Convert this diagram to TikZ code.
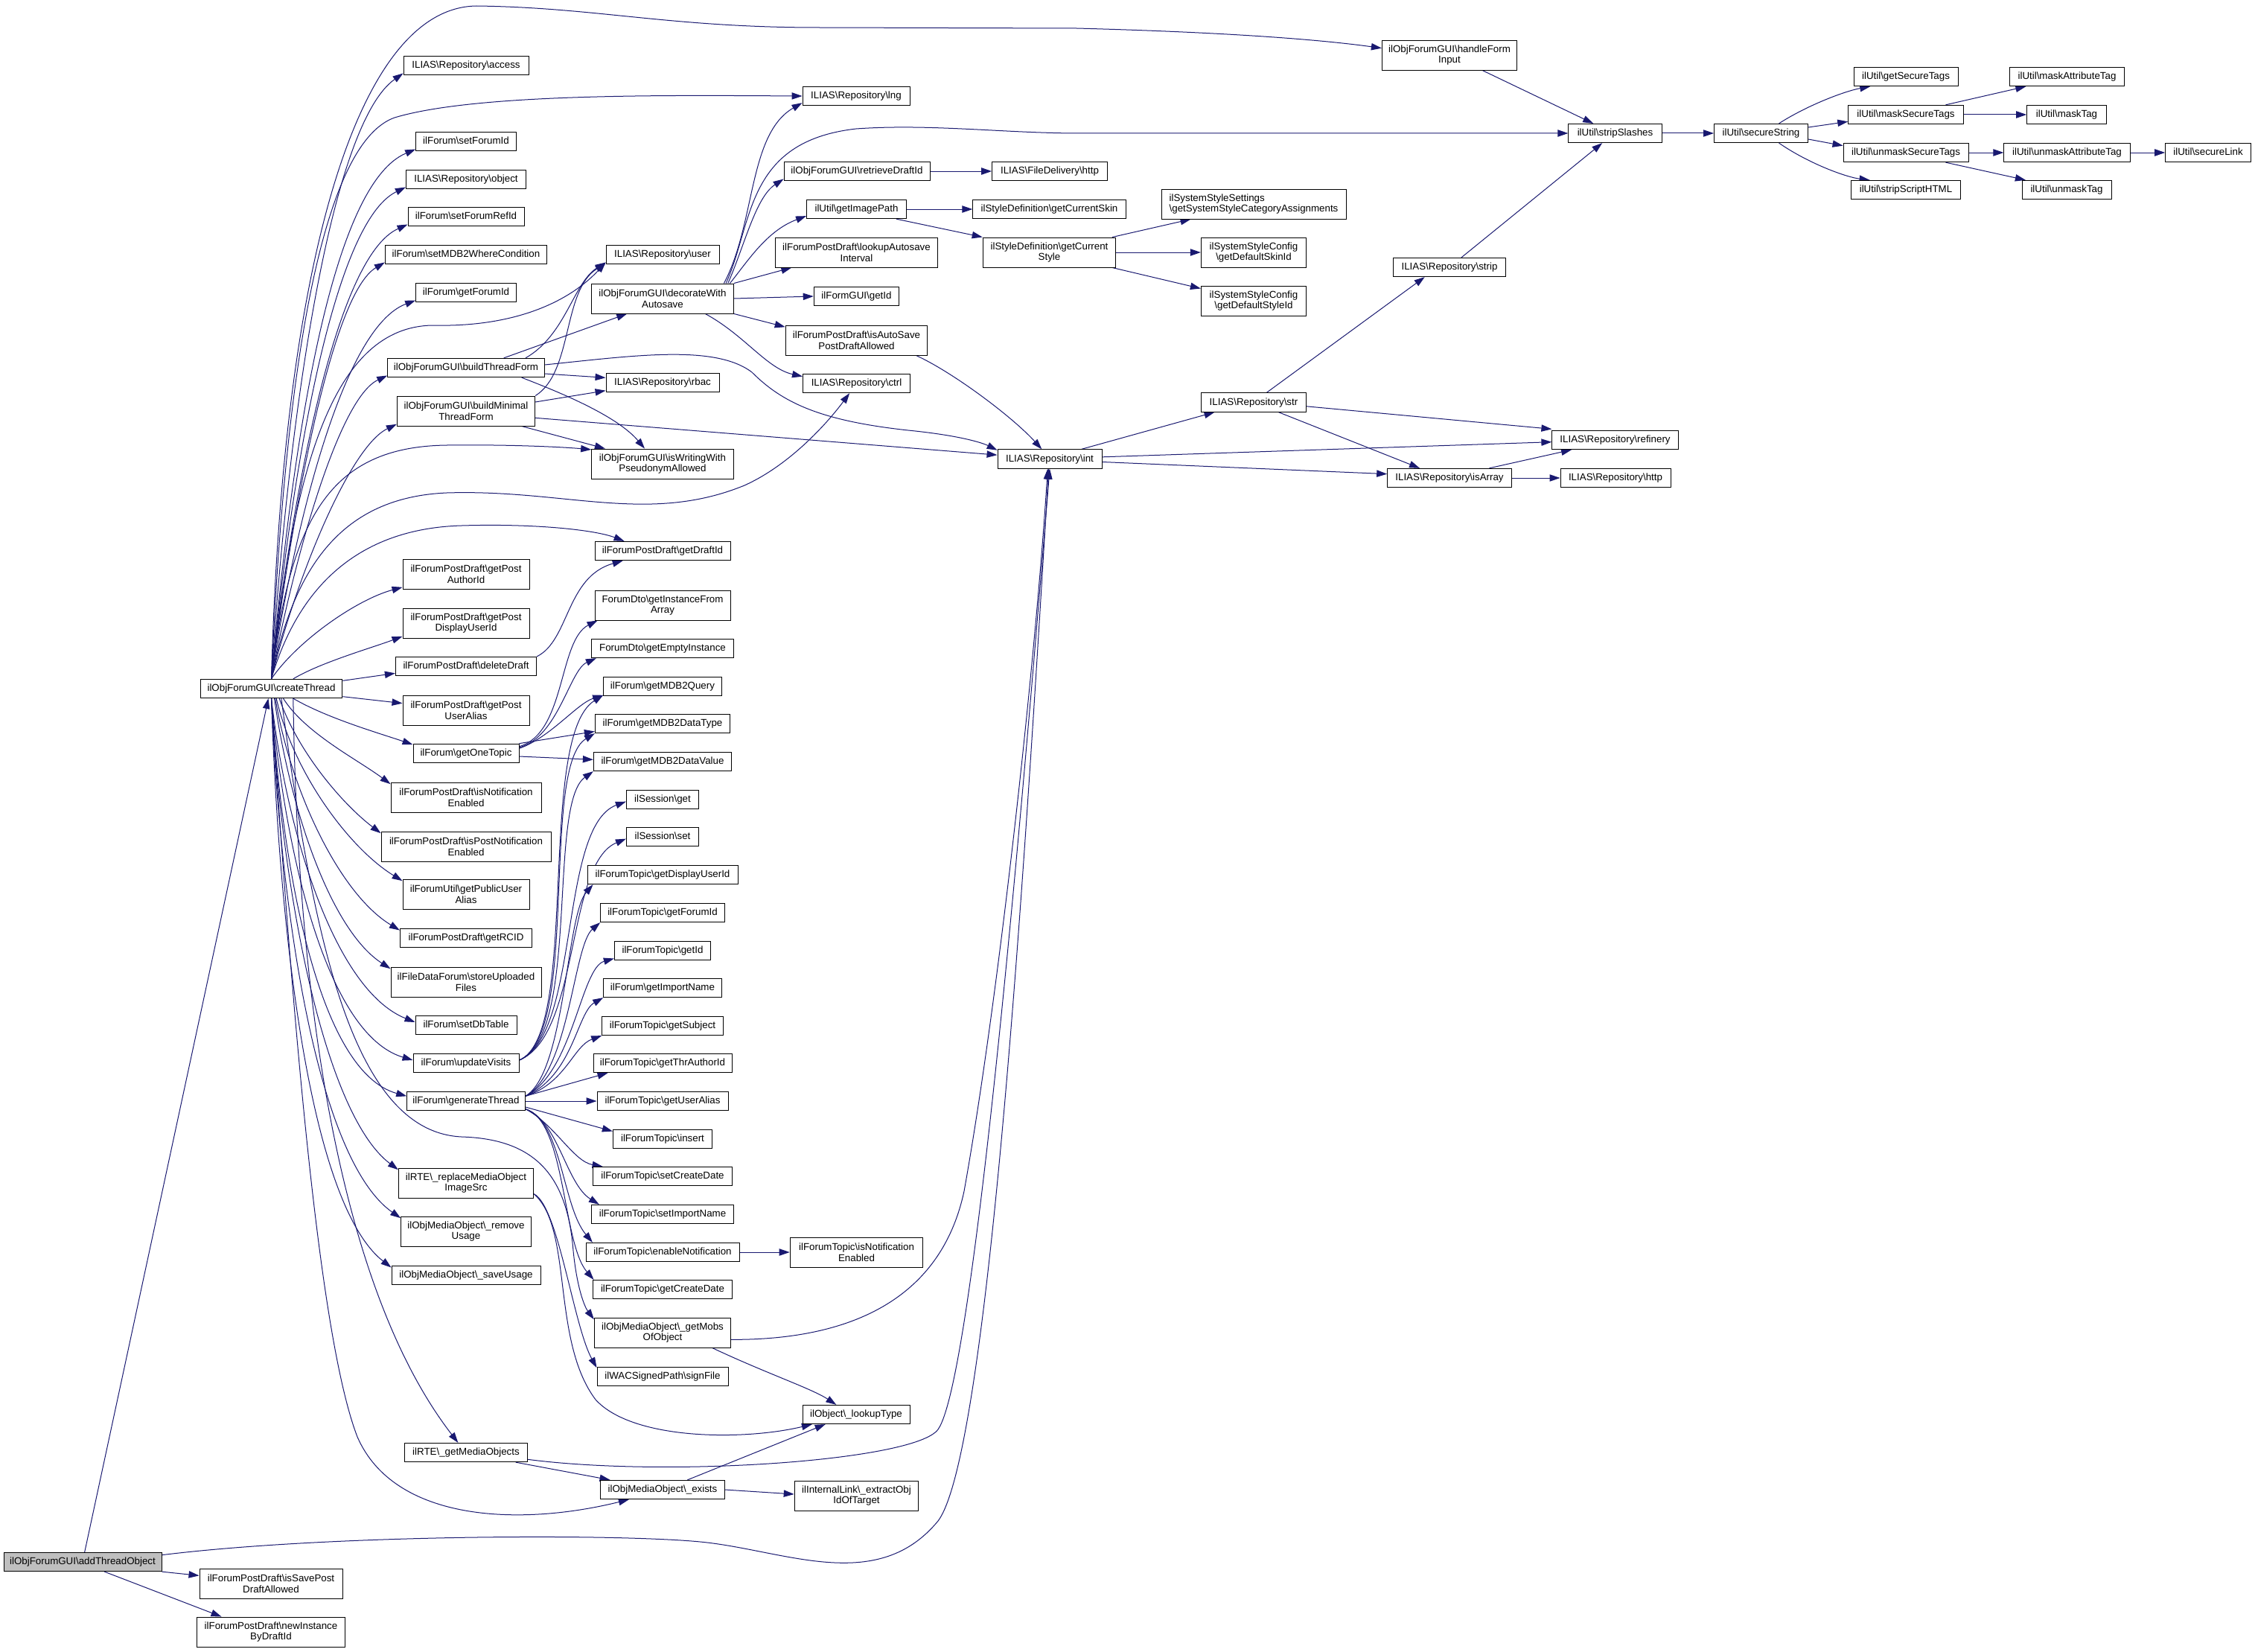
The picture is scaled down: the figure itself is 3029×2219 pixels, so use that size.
\documentclass[tikz,border=0pt]{standalone}
\usepackage{fontspec}
\setmainfont{Liberation Sans}
\usetikzlibrary{arrows.meta,backgrounds}
\definecolor{edgeblue}{RGB}{25,25,112}
\newcommand{\bsl}{\textbackslash}

\begin{document}
\begin{tikzpicture}[x=0.75pt,y=-0.75pt,
  box/.style={draw=black,line width=0.7pt,fill=white,rectangle,inner xsep=4pt,inner ysep=4.5pt,font=\fontsize{10}{11}\selectfont},
  fn/.style={box,text height=7.5pt,text depth=2.2pt,minimum height=19pt},
  fn2/.style={box,align=center,minimum height=30pt},
  call/.style={draw=edgeblue,line width=0.75pt,-{Triangle[length=10.5pt,width=7pt]}}]
\useasboundingbox (0,0) rectangle (3029,2219);

% callers on the left
\node[fn,fill=black!25,minimum width=159pt] (ato) at (111,2098) {ilObjForumGUI\bsl addThreadObject};
\node[fn,minimum width=143pt] (ct) at (364.5,925) {ilObjForumGUI\bsl createThread};
\node[fn2,minimum width=144pt] (isp) at (364,2127) {ilForumPostDraft\bsl isSavePost\\DraftAllowed};
\node[fn2,minimum width=149pt] (nib) at (364,2192) {ilForumPostDraft\bsl newInstance\\ByDraftId};

% first column
\node[fn,minimum width=126pt] (access) at (626,88) {ILIAS\bsl Repository\bsl access};
\node[fn,minimum width=101pt] (setfid) at (626,190) {ilForum\bsl setForumId};
\node[fn,minimum width=121pt] (object) at (626,241) {ILIAS\bsl Repository\bsl object};
\node[fn,minimum width=117pt] (setfrid) at (626,291) {ilForum\bsl setForumRefId};
\node[fn,minimum width=163pt] (setmdb) at (626,342) {ilForum\bsl setMDB2WhereCondition};
\node[fn,minimum width=101pt] (getfid) at (626,393) {ilForum\bsl getForumId};
\node[fn,minimum width=158pt] (btf) at (626,494) {ilObjForumGUI\bsl buildThreadForm};
\node[fn2,minimum width=139pt] (bmtf) at (626,552) {ilObjForumGUI\bsl buildMinimal\\ThreadForm};
\node[fn2,minimum width=127.5pt] (gpai) at (626,771) {ilForumPostDraft\bsl getPost\\AuthorId};
\node[fn2,minimum width=127.5pt] (gpdu) at (626,837) {ilForumPostDraft\bsl getPost\\DisplayUserId};
\node[fn,minimum width=142pt] (dd) at (626,895) {ilForumPostDraft\bsl deleteDraft};
\node[fn2,minimum width=127.5pt] (gpua) at (626,954) {ilForumPostDraft\bsl getPost\\UserAlias};
\node[fn,minimum width=106.5pt] (got) at (626,1012) {ilForum\bsl getOneTopic};
\node[fn2,minimum width=151.5pt] (pdne) at (626,1071) {ilForumPostDraft\bsl isNotification\\Enabled};
\node[fn2,minimum width=171pt] (pdpne) at (626,1137) {ilForumPostDraft\bsl isPostNotification\\Enabled};
\node[fn2,minimum width=127.5pt] (pua) at (626,1201) {ilForumUtil\bsl getPublicUser\\Alias};
\node[fn,minimum width=133pt] (rcid) at (626,1260) {ilForumPostDraft\bsl getRCID};
\node[fn2,minimum width=151.5pt] (suf) at (626,1319) {ilFileDataForum\bsl storeUploaded\\Files};
\node[fn,minimum width=102pt] (sdt) at (626,1377) {ilForum\bsl setDbTable};
\node[fn,minimum width=106.5pt] (uv) at (626,1428) {ilForum\bsl updateVisits};
\node[fn,minimum width=119pt] (gt) at (626,1479) {ilForum\bsl generateThread};
\node[fn2,minimum width=136pt] (rte) at (626,1589) {ilRTE\bsl\_replaceMediaObject\\ImageSrc};
\node[fn2,minimum width=131pt] (mru) at (626,1654) {ilObjMediaObject\bsl\_remove\\Usage};
\node[fn,minimum width=150pt] (msu) at (626,1713) {ilObjMediaObject\bsl\_saveUsage};
\node[fn,minimum width=124pt] (gmo) at (626,1951) {ilRTE\bsl\_getMediaObjects};

% second column
\node[fn,minimum width=114pt] (user) at (890,342) {ILIAS\bsl Repository\bsl user};
\node[fn2,minimum width=143pt] (dwa) at (890,401) {ilObjForumGUI\bsl decorateWith\\Autosave};
\node[fn,minimum width=114pt] (rbac) at (890,514) {ILIAS\bsl Repository\bsl rbac};
\node[fn2,minimum width=143pt] (isw) at (890,623) {ilObjForumGUI\bsl isWritingWith\\PseudonymAllowed};
\node[fn,minimum width=136.5pt] (gdi) at (890,740) {ilForumPostDraft\bsl getDraftId};
\node[fn2,minimum width=136.5pt] (gifa) at (890,813) {ForumDto\bsl getInstanceFrom\\Array};
\node[fn,minimum width=143pt] (gei) at (890,871) {ForumDto\bsl getEmptyInstance};
\node[fn,minimum width=119pt] (gmq) at (890,922) {ilForum\bsl getMDB2Query};
\node[fn,minimum width=136pt] (gmdt) at (890,972) {ilForum\bsl getMDB2DataType};
\node[fn,minimum width=139pt] (gmdv) at (890,1023) {ilForum\bsl getMDB2DataValue};
\node[fn,minimum width=73pt] (sget) at (890,1074) {ilSession\bsl get};
\node[fn,minimum width=73pt] (sset) at (890,1124) {ilSession\bsl set};
\node[fn,minimum width=151.5pt] (tdu) at (890,1175) {ilForumTopic\bsl getDisplayUserId};
\node[fn,minimum width=125pt] (tgf) at (890,1226) {ilForumTopic\bsl getForumId};
\node[fn,minimum width=97pt] (tgi) at (890,1277) {ilForumTopic\bsl getId};
\node[fn,minimum width=119pt] (gin) at (890,1327) {ilForum\bsl getImportName};
\node[fn,minimum width=122pt] (tgs) at (890,1378) {ilForumTopic\bsl getSubject};
\node[fn,minimum width=139.5pt] (tga) at (890,1428) {ilForumTopic\bsl getThrAuthorId};
\node[fn,minimum width=132pt] (tua) at (890,1479) {ilForumTopic\bsl getUserAlias};
\node[fn,minimum width=100pt] (tin) at (890,1530) {ilForumTopic\bsl insert};
\node[fn,minimum width=140pt] (tsc) at (890,1580) {ilForumTopic\bsl setCreateDate};
\node[fn,minimum width=143pt] (tsi) at (890,1631) {ilForumTopic\bsl setImportName};
\node[fn,minimum width=154.5pt] (ten) at (890,1682) {ilForumTopic\bsl enableNotification};
\node[fn,minimum width=140pt] (tgc) at (890,1732) {ilForumTopic\bsl getCreateDate};
\node[fn2,minimum width=137.5pt] (mobs) at (890,1790) {ilObjMediaObject\bsl\_getMobs\\OfObject};
\node[fn,minimum width=132pt] (wsf) at (890,1849) {ilWACSignedPath\bsl signFile};
\node[fn,minimum width=125pt] (mex) at (890,2001) {ilObjMediaObject\bsl\_exists};

% third column
\node[fn,minimum width=108pt] (lng) at (1150,129) {ILIAS\bsl Repository\bsl lng};
\node[fn,minimum width=147pt] (rdi) at (1151,230) {ilObjForumGUI\bsl retrieveDraftId};
\node[fn,minimum width=100.5pt] (gip) at (1150.5,281) {ilUtil\bsl getImagePath};
\node[fn2,minimum width=164pt] (las) at (1150.5,339) {ilForumPostDraft\bsl lookupAutosave\\Interval};
\node[fn,minimum width=86pt] (fgi) at (1150.5,398) {ilFormGUI\bsl getId};
\node[fn2,minimum width=143pt] (ias) at (1150.5,457) {ilForumPostDraft\bsl isAutoSave\\PostDraftAllowed};
\node[fn,minimum width=108pt] (ctrl) at (1150.5,515) {ILIAS\bsl Repository\bsl ctrl};
\node[fn2,minimum width=134pt] (tne) at (1150.5,1682) {ilForumTopic\bsl isNotification\\Enabled};
\node[fn,minimum width=108pt] (olt) at (1150,1900) {ilObject\bsl\_lookupType};
\node[fn2,minimum width=125pt] (iel) at (1150.5,2009) {ilInternalLink\bsl\_extractObj\\IdOfTarget};

% fourth column
\node[fn,minimum width=116pt] (fdh) at (1410,230) {ILIAS\bsl FileDelivery\bsl http};
\node[fn,minimum width=154pt] (gcs) at (1409.5,281) {ilStyleDefinition\bsl getCurrentSkin};
\node[fn2,minimum width=134pt] (gcst) at (1409.5,339) {ilStyleDefinition\bsl getCurrent\\Style};
\node[fn,minimum width=105pt] (int) at (1410,616.5) {ILIAS\bsl Repository\bsl int};

% fifth column
\node[fn2,align=left,minimum width=186pt] (sss) at (1684,274) {ilSystemStyleSettings\\\bsl getSystemStyleCategoryAssignments};
\node[fn2,minimum width=106pt] (dsk) at (1684,339) {ilSystemStyleConfig\\\bsl getDefaultSkinId};
\node[fn2,minimum width=106pt] (dst) at (1684,404) {ilSystemStyleConfig\\\bsl getDefaultStyleId};
\node[fn,minimum width=106pt] (str) at (1684,540.5) {ILIAS\bsl Repository\bsl str};

% sixth column
\node[fn2,minimum width=136pt] (hfi) at (1947,74) {ilObjForumGUI\bsl handleForm\\Input};
\node[fn,minimum width=113pt] (strip) at (1947,359) {ILIAS\bsl Repository\bsl strip};
\node[fn,minimum width=125pt] (isarr) at (1947,642) {ILIAS\bsl Repository\bsl isArray};

% right part
\node[fn,minimum width=94pt] (ss) at (2169.5,179) {ilUtil\bsl stripSlashes};
\node[fn,minimum width=127pt] (ref) at (2169.5,591) {ILIAS\bsl Repository\bsl refinery};
\node[fn,minimum width=111pt] (rhttp) at (2170,642) {ILIAS\bsl Repository\bsl http};
\node[fn,minimum width=94.5pt] (sec) at (2365.5,179) {ilUtil\bsl secureString};
\node[fn,minimum width=105pt] (gst) at (2560,103) {ilUtil\bsl getSecureTags};
\node[fn,minimum width=116pt] (mst) at (2560,154) {ilUtil\bsl maskSecureTags};
\node[fn,minimum width=126pt] (ust) at (2560,205) {ilUtil\bsl unmaskSecureTags};
\node[fn,minimum width=110pt] (ssh) at (2560,255) {ilUtil\bsl stripScriptHTML};
\node[fn,minimum width=116pt] (mat) at (2776.5,103) {ilUtil\bsl maskAttributeTag};
\node[fn,minimum width=80pt] (mtg) at (2776,154) {ilUtil\bsl maskTag};
\node[fn,minimum width=127pt] (uat) at (2776.5,205) {ilUtil\bsl unmaskAttributeTag};
\node[fn,minimum width=90pt] (utg) at (2776,255) {ilUtil\bsl unmaskTag};
\node[fn,minimum width=86pt] (slk) at (2966,205) {ilUtil\bsl secureLink};

\begin{scope}[on background layer]
% addThreadObject
\draw[call] ([xshift=2pt]ato.north) -- ([xshift=-3pt]ct.south);
\draw[call] (ato.south east) -- ([yshift=8pt]isp.west);
\draw[call] ([xshift=22pt]ato.south) -- ([xshift=25pt]nib.north west);
\draw[call] ([yshift=7pt]ato.east) .. controls (450,2060) and (850,2060) .. (950,2072) .. controls (1060,2085) and (1180,2140) .. (1260,2043) .. controls (1330,1950) and (1380,1100) .. ([xshift=-1pt]int.south);

% createThread, upwards
\draw[call] (ct.north) .. controls (380,350) and (480,10) .. (640,8) .. controls (800,10) and (900,37) .. (1100,37) -- (1446,38) .. controls (1600,42) and (1750,50) .. ([yshift=7pt]hfi.west);
\draw[call] (ct.north) .. controls (385,590) and (440,170) .. ([yshift=2pt]access.south west);
\draw[call] (ct.north) .. controls (385,450) and (440,190) .. (530,158) .. controls (640,125) and (900,128) .. (lng.west);
\draw[call] (ct.north) .. controls (390,625) and (440,250) .. ([yshift=2pt]setfid.south west);
\draw[call] (ct.north) .. controls (390,650) and (445,300) .. ([yshift=2pt]object.south west);
\draw[call] (ct.north) .. controls (392,670) and (450,345) .. ([yshift=2pt]setfrid.south west);
\draw[call] (ct.north) .. controls (392,690) and (445,395) .. ([yshift=2pt]setmdb.south west);
\draw[call] (ct.north) .. controls (395,710) and (460,440) .. ([yshift=2pt]getfid.south west);
\draw[call] (ct.north) .. controls (395,620) and (450,440) .. (580,437) .. controls (700,440) and (770,400) .. ([yshift=2pt]user.south west);
\draw[call] (ct.north) .. controls (395,750) and (455,535) .. ([yshift=2pt]btf.south west);
\draw[call] (ct.north) .. controls (398,775) and (470,600) .. ([yshift=2pt]bmtf.south west);
\draw[call] (ct.north) .. controls (390,700) and (440,600) .. (600,598) .. controls (680,597) and (750,600) .. ([yshift=-1pt]isw.north west);
\draw[call] (ct.north) .. controls (395,760) and (460,668) .. (600,662) .. controls (760,657) and (870,705) .. (1000,652) .. controls (1060,625) and (1110,570) .. ([xshift=-7pt]ctrl.south);
\draw[call] (ct.north) .. controls (400,790) and (480,710) .. (620,706) .. controls (720,703) and (800,712) .. ([xshift=30pt]gdi.north west);
\draw[call] (ct.north) .. controls (400,860) and (480,805) .. ([yshift=2pt]gpai.south west);
\draw[call] ([xshift=22pt]ct.north) .. controls (430,890) and (500,870) .. ([yshift=2pt]gpdu.south west);
\draw[call] ([yshift=8pt]ct.east) -- ([yshift=-7pt]dd.west);
\draw[call] ([yshift=-8pt]ct.east) -- ([yshift=7pt]gpua.west);

% createThread, downwards
\draw[call] ([xshift=22pt]ct.south) .. controls (440,965) and (510,985) .. ([yshift=-1pt]got.north west);
\draw[call] ([xshift=12pt]ct.south) .. controls (410,985) and (480,1020) .. ([yshift=-2pt]pdne.north west);
\draw[call] ([xshift=8pt]ct.south) .. controls (400,1010) and (460,1080) .. ([yshift=-2pt]pdpne.north west);
\draw[call] ([xshift=5pt]ct.south) .. controls (395,1040) and (470,1140) .. ([yshift=-2pt]pua.north west);
\draw[call] ([xshift=4pt]ct.south) .. controls (390,1060) and (455,1200) .. ([yshift=-2pt]rcid.north west);
\draw[call] ([xshift=3pt]ct.south) .. controls (390,1090) and (445,1250) .. ([yshift=-2pt]suf.north west);
\draw[call] (ct.south) .. controls (385,1120) and (450,1330) .. ([yshift=3pt]sdt.west);
\draw[call] (ct.south) .. controls (383,1150) and (440,1390) .. ([yshift=3pt]uv.west);
\draw[call] (ct.south) .. controls (380,1180) and (430,1440) .. ([yshift=5pt]gt.west);
\draw[call] (ct.south) .. controls (380,1220) and (440,1500) .. ([yshift=-2pt]rte.north west);
\draw[call] (ct.south) .. controls (378,1250) and (430,1560) .. ([yshift=-2pt]mru.north west);
\draw[call] (ct.south) .. controls (376,1280) and (420,1620) .. ([yshift=-2pt]msu.north west);
\draw[call] ([xshift=22pt]ct.south) .. controls (400,1400) and (470,1750) .. ([xshift=-8pt]gmo.north);
\draw[call] ([xshift=10pt]ct.south) .. controls (420,1250) and (470,1520) .. (620,1527) .. controls (720,1530) and (762,1580) .. (770,1680) .. controls (775,1730) and (785,1755) .. ([yshift=-2pt]mobs.north west);
\draw[call] (ct.south) .. controls (395,1400) and (430,1800) .. (480,1930) .. controls (530,2045) and (700,2050) .. ([xshift=29pt]mex.south west);

% buildThreadForm and buildMinimalThreadForm
\draw[call] ([xshift=38pt]btf.north) -- ([xshift=36pt]dwa.south west);
\draw[call] ([xshift=60pt]btf.north) .. controls (760,450) and (770,380) .. ([yshift=2pt]user.south west);
\draw[call] ([yshift=-6pt]btf.east) -- ([yshift=5pt]rbac.west);
\draw[call] ([xshift=56pt]btf.south) .. controls (760,530) and (830,560) .. ([xshift=-18pt]isw.north);
\draw[call] ([yshift=3pt]btf.east) .. controls (850,478) and (960,462) .. (1010,500) .. controls (1050,540) and (1100,565) .. (1220,578) .. controls (1290,585) and (1320,595) .. ([yshift=-1pt]int.north west);
\draw[call] (bmtf.north east) .. controls (770,500) and (755,390) .. ([yshift=1pt]user.south west);
\draw[call] ([yshift=9pt]bmtf.east) -- ([yshift=-8pt]rbac.west);
\draw[call] ([xshift=56pt]bmtf.south) -- ([xshift=14pt]isw.north west);
\draw[call] ([yshift=-7pt]bmtf.east) -- ([yshift=4pt]int.west);

% decorateWithAutosave
\draw[call] ([xshift=-10pt]dwa.north east) .. controls (1015,300) and (1005,180) .. ([yshift=3pt]lng.south west);
\draw[call] ([xshift=-8pt]dwa.north east) .. controls (1012,300) and (1000,190) .. (1150,173) .. controls (1250,166) and (1350,179) .. (1450,179) -- (ss.west);
\draw[call] ([xshift=-6pt]dwa.north east) .. controls (1000,330) and (1015,265) .. ([yshift=2pt]rdi.south west);
\draw[call] ([xshift=-4pt]dwa.north east) .. controls (1005,350) and (1030,310) .. ([yshift=3pt]gip.south west);
\draw[call] (dwa.north east) -- ([xshift=17pt]las.south west);
\draw[call] (dwa.east) -- (fgi.west);
\draw[call] (dwa.south east) -- ([yshift=-2pt]ias.north west);
\draw[call] ([xshift=43pt]dwa.south) .. controls (1000,450) and (1030,495) .. ([yshift=7pt]ctrl.west);

% getOneTopic and deleteDraft
\draw[call] ([yshift=7pt]got.east) .. controls (760,985) and (750,860) .. ([xshift=3pt]gifa.south west);
\draw[call] ([yshift=6pt]got.east) .. controls (750,990) and (765,900) .. ([xshift=5pt]gei.south west);
\draw[call] ([yshift=5pt]got.east) .. controls (740,990) and (775,945) .. ([yshift=1pt]gmq.south west);
\draw[call] ([yshift=10pt]got.east) -- ([yshift=2pt]gmdt.south west);
\draw[call] ([yshift=-3pt]got.east) -- ([yshift=2pt]gmdv.west);
\draw[call] (dd.north east) .. controls (765,860) and (760,775) .. ([xshift=-40pt]gdi.south);

% updateVisits
\draw[call] ([yshift=3pt]uv.east) .. controls (780,1390) and (720,990) .. ([yshift=1pt]gmq.south west);
\draw[call] ([yshift=3pt]uv.east) .. controls (780,1390) and (725,1030) .. (gmdt.south west);
\draw[call] ([yshift=3pt]uv.east) .. controls (780,1390) and (735,1080) .. (gmdv.south west);
\draw[call] ([yshift=3pt]uv.east) .. controls (780,1390) and (750,1110) .. ([yshift=-2pt]sget.west);
\draw[call] ([yshift=3pt]uv.east) .. controls (780,1390) and (760,1160) .. ([yshift=-2pt]sset.west);

% generateThread
\draw[call] ([yshift=5pt]gt.east) .. controls (760,1440) and (760,1230) .. ([xshift=6pt]tdu.south west);
\draw[call] ([yshift=5pt]gt.east) .. controls (765,1440) and (770,1270) .. (tgf.south west);
\draw[call] ([yshift=5pt]gt.east) .. controls (770,1440) and (780,1300) .. ([yshift=2pt]tgi.south west);
\draw[call] ([yshift=5pt]gt.east) .. controls (770,1445) and (775,1360) .. (gin.south west);
\draw[call] ([yshift=5pt]gt.east) .. controls (760,1455) and (770,1405) .. (tgs.south west);
\draw[call] ([yshift=5pt]gt.east) -- ([xshift=15pt]tga.south west);
\draw[call] (gt.east) -- (tua.west);
\draw[call] ([yshift=-6pt]gt.east) -- ([yshift=-2pt]tin.north west);
\draw[call] ([yshift=-8pt]gt.east) .. controls (745,1510) and (770,1560) .. ([xshift=10pt]tsc.north west);
\draw[call] ([yshift=-8pt]gt.east) .. controls (750,1505) and (760,1590) .. ([xshift=8pt]tsi.north west);
\draw[call] ([yshift=-8pt]gt.east) .. controls (755,1505) and (755,1620) .. ([xshift=7pt]ten.north west);
\draw[call] ([yshift=-8pt]gt.east) .. controls (760,1505) and (755,1670) .. ([xshift=1pt]tgc.north west);
\draw[call] (ten.east) -- (tne.west);

% media objects
\draw[call] ([yshift=-11pt]rte.east) .. controls (750,1620) and (770,1780) .. ([yshift=-1pt]wsf.north west);
\draw[call] ([yshift=-11pt]rte.east) .. controls (770,1650) and (740,1800) .. (800,1880) .. controls (850,1935) and (1000,1935) .. ([xshift=10pt]olt.south west);
\draw[call] ([xshift=50pt]mobs.south) .. controls (1030,1845) and (1090,1865) .. ([xshift=-20pt]olt.north);
\draw[call] ([yshift=-7pt]mobs.east) .. controls (1150,1800) and (1265,1740) .. (1295,1600) .. controls (1340,1350) and (1390,900) .. ([xshift=-2pt]int.south);
\draw[call] ([xshift=50pt]gmo.south) -- ([xshift=10pt]mex.north west);
\draw[call] ([yshift=-7pt]gmo.east) .. controls (900,1985) and (1230,1962) .. (1260,1920) .. controls (1310,1850) and (1380,1000) .. (int.south);
\draw[call] ([xshift=25pt]mex.north) -- ([xshift=-31pt]olt.south);
\draw[call] (mex.east) -- ([yshift=1.5pt]iel.west);

% middle part
\draw[call] (rdi.east) -- (fdh.west);
\draw[call] (gip.east) -- (gcs.west);
\draw[call] ([xshift=40pt]gip.south) -- (gcst.north west);
\draw[call] ([xshift=-4pt]gcst.north east) -- ([xshift=30pt]sss.south west);
\draw[call] (gcst.east) -- (dsk.west);
\draw[call] ([xshift=-4pt]gcst.south east) -- ([yshift=-3pt]dst.north west);
\draw[call] ([xshift=60pt]ias.south) .. controls (1280,500) and (1360,560) .. ([xshift=-8pt]int.north);
\draw[call] ([xshift=32pt]int.north) -- ([xshift=14pt]str.south west);
\draw[call] ([yshift=2pt]int.east) -- ([yshift=-2pt]ref.west);
\draw[call] ([yshift=-3pt]int.east) -- ([yshift=4pt]isarr.west);
\draw[call] ([yshift=-4pt]str.east) -- ([yshift=11pt]ref.west);
\draw[call] ([xshift=25pt]str.south) -- ([xshift=-30pt]isarr.north);
\draw[call] ([xshift=13pt]str.north) -- ([xshift=-25pt]strip.south);
\draw[call] ([xshift=40pt]isarr.north) -- ([xshift=20pt]ref.south west);
\draw[call] (isarr.east) -- (rhttp.west);
\draw[call] ([xshift=12pt]strip.north) -- ([xshift=-13pt]ss.south);
\draw[call] ([xshift=33pt]hfi.south) -- ([xshift=-22pt]ss.north);

% ilUtil
\draw[call] (ss.east) -- (sec.west);
\draw[call] ([xshift=18pt]sec.north) .. controls (2430,140) and (2480,122) .. ([xshift=17pt]gst.south west);
\draw[call] ([yshift=6pt]sec.east) -- ([yshift=-7pt]mst.west);
\draw[call] ([yshift=-6pt]sec.east) -- ([yshift=7pt]ust.west);
\draw[call] ([xshift=18pt]sec.south) .. controls (2430,220) and (2480,238) .. ([xshift=19pt]ssh.north west);
\draw[call] ([xshift=40pt]mst.north) -- ([xshift=17pt]mat.south west);
\draw[call] (mst.east) -- (mtg.west);
\draw[call] (ust.east) -- (uat.west);
\draw[call] ([xshift=40pt]ust.south) -- ([xshift=4pt]utg.north west);
\draw[call] (uat.east) -- (slk.west);
\end{scope}

\end{tikzpicture}
\end{document}
